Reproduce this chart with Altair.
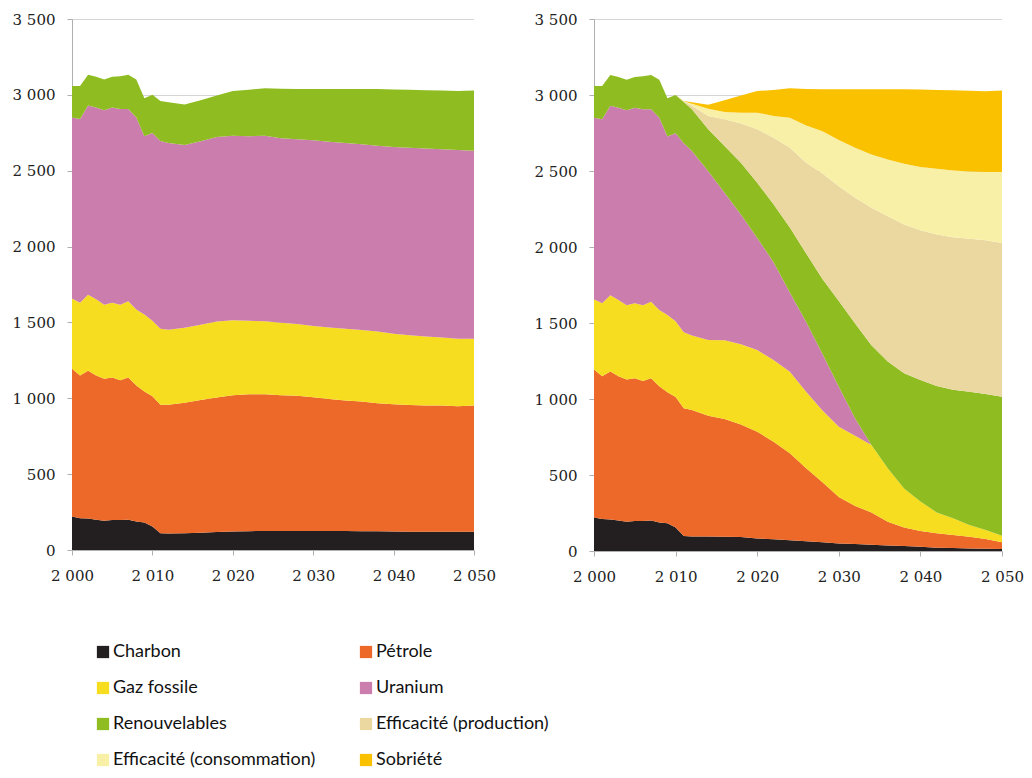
import altair as alt
import pandas as pd

years = [2000, 2001, 2002, 2003, 2004, 2005, 2006, 2007, 2008, 2009, 2010, 2011, 2012,
         2014, 2016, 2018, 2020, 2022, 2024, 2026, 2028, 2030, 2032, 2034, 2036,
         2038, 2040, 2042, 2044, 2046, 2048, 2050]

series_names = ["Charbon", "Pétrole", "Gaz fossile", "Uranium", "Renouvelables",
                "Efficacité (production)", "Efficacité (consommation)", "Sobriété"]
series_colors = ["#231F20", "#EC6929", "#F7DD1F", "#CB7EAE", "#8FBD21",
                 "#EBD8A0", "#F9F0A8", "#F9C100"]
# legend entries, laid out column by column (2 columns x 4 rows)
legend_order = ["Charbon", "Gaz fossile", "Renouvelables", "Efficacité (consommation)",
                "Pétrole", "Uranium", "Efficacité (production)", "Sobriété"]

# Left panel: reference scenario
charbon_ref = [220, 210, 208, 200, 192, 198, 197, 200, 188, 182, 155, 110, 108,
               110, 114, 118, 122, 124, 126, 126, 126, 126, 126, 125, 124, 123, 122, 121, 120, 120, 120, 120]
petrole_ref = [974, 940, 973, 950, 936, 939, 922, 937, 896, 862, 858, 848, 850,
               860, 874, 887, 898, 903, 901, 894, 890, 881, 870, 861, 854, 845, 839, 835, 832, 832, 828, 832]
gaz_ref = [463, 480, 502, 502, 489, 493, 498, 502, 502, 509, 498, 500, 494,
           495, 497, 501, 495, 484, 481, 478, 473, 469, 471, 472, 472, 473, 464, 460, 456, 448, 444, 440]
uranium_ref = [1193, 1211, 1247, 1264, 1282, 1286, 1290, 1268, 1264, 1174, 1238, 1238, 1231,
               1205, 1209, 1216, 1216, 1216, 1223, 1216, 1218, 1224, 1224, 1224, 1224, 1224, 1231, 1235, 1238, 1241, 1244, 1240]
renouv_ref = [209, 218, 202, 203, 202, 203, 216, 225, 251, 251, 251, 264, 269,
              266, 271, 274, 295, 306, 313, 326, 331, 338, 347, 356, 364, 373, 380, 382, 385, 387, 389, 397]

# Right panel: transition scenario
charbon_neg = [220, 210, 208, 200, 192, 198, 197, 200, 188, 182, 155, 99, 96,
               95, 94, 92, 83, 77, 71, 64, 57, 50, 46, 41, 37, 33, 28, 22, 19, 17, 15, 13]
petrole_neg = [974, 940, 973, 950, 936, 939, 922, 937, 896, 862, 858, 840, 832,
               795, 774, 741, 702, 642, 572, 480, 395, 305, 250, 213, 156, 121, 104, 94, 86, 77, 64, 44]
gaz_neg = [463, 480, 502, 502, 489, 493, 498, 502, 502, 509, 498, 500, 489,
           498, 518, 527, 537, 538, 537, 504, 473, 463, 463, 443, 351, 258, 193, 138, 110, 77, 59, 44]
uranium_neg = [1193, 1211, 1247, 1264, 1282, 1286, 1290, 1268, 1264, 1174, 1238, 1243, 1214,
               1111, 971, 854, 738, 643, 520, 458, 371, 263, 112, 0, 0, 0, 0, 0, 0, 0, 0, 0]
renouv_neg = [209, 218, 202, 203, 202, 203, 216, 225, 251, 251, 251, 272, 275,
              275, 307, 340, 362, 382, 428, 452, 494, 564, 626, 656, 702, 758, 800, 831, 846, 877, 895, 914]
eff_prod = [0, 0, 0, 0, 0, 0, 0, 0, 0, 0, 0, 4, 24,
            88, 176, 259, 352, 437, 525, 596, 694, 755, 827, 905, 957, 978, 986, 997, 1003, 1006, 1012, 1012]
eff_conso = [0, 0, 0, 0, 0, 0, 0, 0, 0, 0, 0, 1, 12,
             48, 48, 71, 110, 143, 198, 246, 277, 304, 329, 351, 373, 400, 415, 433, 440, 443, 448, 466]
sobriete = [0, 0, 0, 0, 0, 0, 0, 0, 0, 0, 0, 1, 10,
            26, 77, 112, 142, 171, 193, 240, 277, 334, 385, 429, 462, 490, 510, 518, 527, 531, 532, 536]

y_ticks = [0, 500, 1000, 1500, 2000, 2500, 3000, 3500]
x_ticks = [2000, 2010, 2020, 2030, 2040, 2050]


def build_frame(series):
    rows = []
    for name, vals in series:
        for yr, v in zip(years, vals):
            rows.append({"annee": yr, "source": name, "valeur": v,
                         "rang": series_names.index(name)})
    return pd.DataFrame(rows)


df_ref = build_frame([("Charbon", charbon_ref), ("Pétrole", petrole_ref),
                      ("Gaz fossile", gaz_ref), ("Uranium", uranium_ref),
                      ("Renouvelables", renouv_ref)])
df_neg = build_frame([("Charbon", charbon_neg), ("Pétrole", petrole_neg),
                      ("Gaz fossile", gaz_neg), ("Uranium", uranium_neg),
                      ("Renouvelables", renouv_neg),
                      ("Efficacité (production)", eff_prod),
                      ("Efficacité (consommation)", eff_conso),
                      ("Sobriété", sobriete)])

num_fmt = "replace(format(datum.value, ','), ',', ' ')"


def panel(df, w, h):
    return alt.Chart(df).mark_area(interpolate="linear").encode(
        x=alt.X("annee:Q", title=None,
                scale=alt.Scale(domain=[2000, 2050], nice=False, zero=False),
                axis=alt.Axis(values=x_ticks, labelExpr=num_fmt, grid=False,
                              labelFlush=False, labelOverlap=False,
                              tickSize=5, labelPadding=13, domainColor="#b0b0b0",
                              tickColor="#b0b0b0")),
        y=alt.Y("valeur:Q", title=None, stack="zero",
                scale=alt.Scale(domain=[0, 3500], nice=False),
                axis=alt.Axis(values=y_ticks, labelExpr=num_fmt, grid=True,
                              gridDash=[1, 1], gridColor="#888888", gridWidth=0.7,
                              tickSize=5, labelPadding=12, domainColor="#b0b0b0",
                              tickColor="#b0b0b0", labelFlush=False)),
        color=alt.Color("source:N",
                        scale=alt.Scale(domain=series_names, range=series_colors),
                        legend=alt.Legend(title=None, orient="none", legendX=22, legendY=624,
                                          values=legend_order,
                                          columns=2, symbolType="square", symbolSize=150,
                                          symbolStrokeWidth=0, labelFont="Lato",
                                          labelFontSize=18, labelColor="#111111",
                                          labelLimit=400,
                                          rowPadding=18, columnPadding=41,
                                          labelOffset=1, gridAlign="all")),
        order=alt.Order("rang:Q", sort="ascending"),
    ).properties(width=w, height=h)


chart = alt.hconcat(panel(df_ref, 402, 531), panel(df_neg, 408, 532),
                    spacing=120, bounds="flush").properties(
    padding={"left": 4, "top": 4, "right": 0, "bottom": 0}
).configure_axis(
    labelFont="DejaVu Serif", labelFontSize=15, labelColor="#222222"
).configure_view(stroke=None)

chart.save("out.html", embed_options={"renderer": "svg", "actions": False})
